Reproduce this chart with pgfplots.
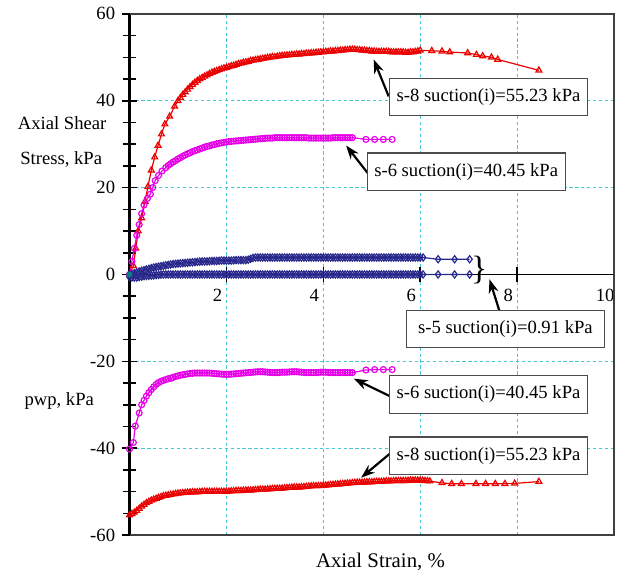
\documentclass[border=0pt]{standalone}
\usepackage{fontspec}
\setmainfont{Liberation Serif}
\usepackage{pgfplots}
\pgfplotsset{compat=1.18}
\usetikzlibrary{arrows.meta}

\definecolor{gridc}{RGB}{70,200,210}
\definecolor{sred}{RGB}{235,0,0}
\definecolor{smag}{RGB}{230,0,230}
\definecolor{snavy}{RGB}{40,40,140}

\begin{document}
\begin{tikzpicture}
\begin{axis}[
  scale only axis,
  width=244.5pt, height=263pt,
  xmin=0, xmax=10, ymin=-60, ymax=60,
  axis x line*=middle, axis y line*=left,
  xtick={2,4,6,8,10}, xticklabels={2,4,6,8,10},
  ytick={-60,-40,-20,0,20,40,60},
  yticklabels={-60,-40,-20,0,20,40,60},
  minor y tick num=3,
  tick align=center,
  major tick length=7.5pt, minor tick length=6.5pt,
  every tick/.style={black, line width=0.8pt},
  x axis line style={black, line width=0.8pt},
  y axis line style={black, line width=1.1pt},
  font=\fontsize{9.4}{11}\selectfont,
  xticklabel style={xshift=-4.5pt},
  grid=major,
  grid style={gridc, line width=0.5pt, dash pattern=on 1.6pt off 1.4pt},
  clip=false,
  every axis plot/.append style={line width=0.6pt},
]
% frame
\draw[black!75, line width=0.8pt] (rel axis cs:0,0) -- (rel axis cs:1,0) -- (rel axis cs:1,1) -- (rel axis cs:0,1);
\path (axis cs:-2.673,63.2) rectangle (axis cs:10.02,-68.2);

% s-8 stress
\addplot[sred, mark=triangle, mark size=1.7pt] coordinates {
(0,0)(0.08,2)(0.13,6)(0.18,10)(0.25,13)(0.32,16.8)(0.38,20.2)(0.45,24)(0.52,27)(0.59,29.7)
(0.66,32.3)(0.73,34.6)(0.83,36.4)(0.93,38.7)(1.0,40.0)(1.05,40.7)(1.1,41.4)(1.15,42.0)(1.2,42.6)
(1.25,43.2)(1.3,43.7)(1.35,44.2)(1.4,44.6)(1.45,45.0)(1.5,45.3)(1.55,45.6)(1.6,45.9)(1.65,46.2)
(1.7,46.5)(1.75,46.7)(1.8,46.9)(1.85,47.1)(1.9,47.3)(1.95,47.5)(2.0,47.6)(2.05,47.8)(2.1,48.0)
(2.15,48.1)(2.2,48.3)(2.25,48.5)(2.3,48.6)(2.35,48.8)(2.4,48.9)(2.45,49.0)(2.5,49.2)(2.55,49.3)
(2.6,49.4)(2.65,49.5)(2.7,49.6)(2.75,49.7)(2.8,49.8)(2.85,49.9)(2.9,50.0)(2.95,50.1)(3.0,50.1)
(3.05,50.2)(3.1,50.3)(3.15,50.4)(3.2,50.4)(3.25,50.5)(3.3,50.5)(3.35,50.6)(3.4,50.6)(3.45,50.7)
(3.5,50.7)(3.55,50.8)(3.6,50.8)(3.65,50.9)(3.7,50.9)(3.75,51.0)(3.8,51.0)(3.85,51.1)(3.9,51.1)
(3.95,51.2)(4.0,51.2)(4.05,51.3)(4.1,51.3)(4.15,51.4)(4.2,51.4)(4.25,51.5)(4.3,51.5)(4.35,51.6)
(4.4,51.6)(4.45,51.7)(4.5,51.7)(4.55,51.8)(4.6,51.8)(4.65,51.8)(4.7,51.7)(4.75,51.7)(4.8,51.6)
(4.85,51.6)(4.9,51.5)(4.95,51.5)(5.0,51.4)(5.05,51.4)(5.1,51.3)(5.15,51.3)(5.2,51.3)(5.25,51.3)
(5.3,51.3)(5.35,51.3)(5.4,51.2)(5.45,51.2)(5.5,51.2)(5.55,51.2)(5.6,51.2)(5.65,51.2)(5.7,51.1)
(5.75,51.1)(5.8,51.2)(5.85,51.2)(5.9,51.3)(5.95,51.4)(6.0,51.6)
(6.24,51.5)(6.45,51.4)(6.61,51.2)(6.98,51.0)(7.16,50.6)(7.29,50.3)(7.47,50.0)(7.6,49.5)(8.45,47.0)
};
% s-6 stress
\addplot[smag, mark=o, mark size=1.5pt] coordinates {
(0,0)(0.05,3)(0.1,6)(0.15,9)(0.2,11.5)(0.25,14)(0.3,16)(0.37,17.5)(0.43,18.5)(0.48,20)(0.53,21.6)
(0.6,22.8)(0.67,23.8)(0.75,24.6)(0.8,25.1)(0.85,25.5)(0.9,25.9)(0.95,26.2)(1.0,26.6)(1.05,26.9)
(1.1,27.2)(1.15,27.5)(1.2,27.8)(1.25,28.0)(1.3,28.3)(1.35,28.5)(1.4,28.7)(1.45,28.9)(1.5,29.1)
(1.55,29.3)(1.6,29.5)(1.65,29.6)(1.7,29.8)(1.75,29.9)(1.8,30.1)(1.85,30.2)(1.9,30.3)(1.95,30.4)
(2.0,30.5)(2.05,30.6)(2.1,30.65)(2.15,30.7)(2.2,30.75)(2.25,30.8)(2.3,30.85)(2.35,30.9)(2.4,30.95)
(2.45,31.0)(2.5,31.05)(2.55,31.1)(2.6,31.15)(2.65,31.2)(2.7,31.25)(2.75,31.3)(2.8,31.35)(2.85,31.4)
(2.9,31.4)(2.95,31.4)(3.0,31.5)(3.05,31.5)(3.1,31.5)(3.15,31.5)(3.2,31.5)(3.25,31.5)(3.3,31.5)
(3.35,31.5)(3.4,31.5)(3.45,31.5)(3.5,31.5)(3.55,31.5)(3.6,31.5)(3.65,31.5)(3.7,31.4)(3.75,31.4)
(3.8,31.4)(3.85,31.4)(3.9,31.4)(3.95,31.4)(4.0,31.4)(4.05,31.4)(4.1,31.4)(4.15,31.4)(4.2,31.5)
(4.25,31.5)(4.3,31.5)(4.35,31.5)(4.4,31.5)(4.45,31.5)(4.5,31.5)(4.55,31.5)(4.6,31.5)
(4.88,31.1)(5.06,31.1)(5.24,31.1)(5.42,31.1)
};
% s-5 stress
\addplot[snavy, mark=diamond, mark size=1.8pt] coordinates {
(0,0)(0.05,0.1)(0.1,0.3)(0.15,0.5)(0.2,0.7)(0.25,0.85)(0.3,1.0)(0.35,1.15)(0.4,1.3)(0.45,1.45)
(0.5,1.6)(0.55,1.7)(0.6,1.8)(0.65,1.9)(0.7,2.0)(0.75,2.1)(0.8,2.2)(0.85,2.3)(0.9,2.4)(0.95,2.45)
(1.0,2.5)(1.05,2.55)(1.1,2.6)(1.15,2.65)(1.2,2.7)(1.25,2.75)(1.3,2.8)(1.35,2.85)(1.4,2.9)(1.45,2.95)
(1.5,3.0)(1.55,3.0)(1.6,3.0)(1.65,3.05)(1.7,3.1)(1.75,3.1)(1.8,3.1)(1.85,3.15)(1.9,3.2)(1.95,3.2)
(2.0,3.2)(2.05,3.2)(2.1,3.2)(2.15,3.25)(2.2,3.3)(2.25,3.3)(2.3,3.3)(2.35,3.3)(2.4,3.3)(2.45,3.4)
(2.5,3.6)(2.55,3.8)(2.6,3.9)(2.65,3.9)(2.7,3.9)(2.75,3.9)(2.8,3.9)(2.85,3.9)(2.9,3.9)(2.95,3.9)
(3.0,3.9)(3.05,3.9)(3.1,3.9)(3.15,3.9)(3.2,3.9)(3.25,3.9)(3.3,3.9)(3.35,3.9)(3.4,3.9)(3.45,3.9)
(3.5,3.9)(3.55,3.9)(3.6,3.9)(3.65,3.9)(3.7,3.9)(3.75,3.9)(3.8,3.9)(3.85,3.9)(3.9,3.9)(3.95,3.9)
(4.0,3.9)(4.05,3.9)(4.1,3.9)(4.15,3.9)(4.2,3.9)(4.25,3.9)(4.3,3.9)(4.35,3.9)(4.4,3.9)(4.45,3.9)
(4.5,3.9)(4.55,3.9)(4.6,3.9)(4.65,3.9)(4.7,3.9)(4.75,3.9)(4.8,3.9)(4.85,3.9)(4.9,3.9)(4.95,3.9)
(5.0,3.9)(5.05,3.9)(5.1,3.9)(5.15,3.9)(5.2,3.9)(5.25,3.9)(5.3,3.9)(5.35,3.9)(5.4,3.9)(5.45,3.9)
(5.5,3.9)(5.55,3.9)(5.6,3.9)(5.65,3.9)(5.7,3.9)(5.75,3.9)(5.8,3.9)(5.85,3.9)(5.9,3.9)(5.95,3.9)
(6.0,3.9)(6.06,3.9)(6.37,3.5)(6.71,3.5)(7.02,3.5)
};
% s-5 pwp
\addplot[snavy, mark=diamond, mark size=1.8pt] coordinates {
(0,-0.6)(0.05,-0.7)(0.1,-0.7)(0.15,-0.7)(0.2,-0.6)(0.25,-0.5)(0.3,-0.4)(0.35,-0.35)(0.4,-0.3)
(0.45,-0.25)(0.5,-0.2)(0.55,-0.15)(0.6,-0.1)(0.65,-0.05)(0.7,0)(0.75,0)(0.8,0)(0.85,0)(0.9,0)(0.95,0)
(1.0,0)(1.05,0)(1.1,0)(1.15,0)(1.2,0)(1.25,0)(1.3,0)(1.35,0)(1.4,0)(1.45,0)
(1.5,0)(1.55,0)(1.6,0)(1.65,0)(1.7,0)(1.75,0)(1.8,0)(1.85,0)(1.9,0)(1.95,0)
(2.0,0)(2.05,0)(2.1,0)(2.15,0)(2.2,0)(2.25,0)(2.3,0)(2.35,0)(2.4,0)(2.45,0)
(2.5,0)(2.55,0)(2.6,0)(2.65,0)(2.7,0)(2.75,0)(2.8,0)(2.85,0)(2.9,0)(2.95,0)
(3.0,0)(3.05,0)(3.1,0)(3.15,0)(3.2,0)(3.25,0)(3.3,0)(3.35,0)(3.4,0)(3.45,0)
(3.5,0)(3.55,0)(3.6,0)(3.65,0)(3.7,0)(3.75,0)(3.8,0)(3.85,0)(3.9,0)(3.95,0)
(4.0,0)(4.05,0)(4.1,0)(4.15,0)(4.2,0)(4.25,0)(4.3,0)(4.35,0)(4.4,0)(4.45,0)
(4.5,0)(4.55,0)(4.6,0)(4.65,0)(4.7,0)(4.75,0)(4.8,0)(4.85,0)(4.9,0)(4.95,0)
(5.0,0)(5.05,0)(5.1,0)(5.15,0)(5.2,0)(5.25,0)(5.3,0)(5.35,0)(5.4,0)(5.45,0)
(5.5,0)(5.55,0)(5.6,0)(5.65,0)(5.7,0)(5.75,0)(5.8,0)(5.85,0)(5.9,0)(5.95,0)
(6.0,0)(6.06,0)(6.37,0)(6.71,0)(7.02,0)
};
% origin marker
\addplot[only marks, mark=*, mark size=1.2pt, color=teal] coordinates {(0,0)};
% s-6 pwp
\addplot[smag, mark=o, mark size=1.5pt] coordinates {
(0,-40.2)(0.08,-38.7)(0.12,-34.9)(0.2,-31.9)(0.25,-30)(0.3,-29)(0.35,-28)(0.4,-27.2)(0.45,-26.5)
(0.5,-25.9)(0.55,-25.3)(0.6,-24.9)(0.65,-24.6)(0.7,-24.4)(0.75,-24.2)(0.8,-24.0)(0.86,-23.9)
(0.9,-23.7)(0.95,-23.5)(1.0,-23.35)(1.05,-23.2)(1.1,-23.1)(1.15,-23.0)(1.2,-22.9)(1.25,-22.8)
(1.3,-22.75)(1.35,-22.7)(1.4,-22.7)(1.45,-22.7)(1.5,-22.7)(1.55,-22.7)(1.6,-22.7)(1.65,-22.7)
(1.7,-22.75)(1.75,-22.8)(1.8,-22.85)(1.85,-22.9)(1.9,-22.95)(1.95,-23.0)(2.0,-23.0)(2.05,-23.0)
(2.1,-22.95)(2.15,-22.9)(2.2,-22.85)(2.25,-22.8)(2.3,-22.75)(2.35,-22.7)(2.4,-22.65)(2.45,-22.6)
(2.5,-22.55)(2.55,-22.5)(2.6,-22.45)(2.65,-22.4)(2.7,-22.4)(2.75,-22.4)(2.8,-22.45)(2.85,-22.5)
(2.9,-22.55)(2.95,-22.6)(3.0,-22.6)(3.05,-22.6)(3.1,-22.55)(3.15,-22.5)(3.2,-22.5)(3.25,-22.5)
(3.3,-22.45)(3.35,-22.4)(3.4,-22.4)(3.45,-22.4)(3.5,-22.45)(3.55,-22.5)(3.6,-22.55)(3.65,-22.6)
(3.7,-22.6)(3.75,-22.6)(3.8,-22.6)(3.85,-22.6)(3.9,-22.55)(3.95,-22.5)(4.0,-22.5)(4.05,-22.5)
(4.1,-22.55)(4.15,-22.6)(4.2,-22.6)(4.25,-22.6)(4.3,-22.6)(4.35,-22.6)(4.4,-22.6)(4.45,-22.6)
(4.5,-22.6)(4.55,-22.6)(4.6,-22.6)(4.88,-22.0)(5.06,-21.9)(5.24,-21.9)(5.42,-21.9)
};
% s-8 pwp
\addplot[sred, mark=triangle, mark size=1.7pt] coordinates {
(0,-55.4)(0.05,-55.1)(0.1,-54.8)(0.15,-54.4)(0.2,-53.9)(0.25,-53.4)(0.3,-53.0)(0.35,-52.6)(0.4,-52.3)
(0.45,-52.0)(0.5,-51.8)(0.55,-51.6)(0.6,-51.4)(0.65,-51.2)(0.7,-51.0)(0.75,-50.9)(0.8,-50.8)
(0.85,-50.7)(0.9,-50.6)(0.95,-50.5)(1.0,-50.4)(1.05,-50.35)(1.1,-50.3)(1.15,-50.25)(1.2,-50.2)
(1.25,-50.15)(1.3,-50.1)(1.35,-50.1)(1.4,-50.1)(1.45,-50.05)(1.5,-50.0)(1.55,-50.0)(1.6,-50.0)
(1.65,-50.0)(1.7,-50.0)(1.75,-50.0)(1.8,-50.0)(1.85,-50.0)(1.9,-50.0)(1.95,-50.0)(2.0,-50.0)
(2.05,-49.95)(2.1,-49.9)(2.15,-49.85)(2.2,-49.8)(2.25,-49.8)(2.3,-49.8)(2.35,-49.75)(2.4,-49.7)
(2.45,-49.7)(2.5,-49.7)(2.55,-49.65)(2.6,-49.6)(2.65,-49.55)(2.7,-49.5)(2.75,-49.5)(2.8,-49.5)
(2.85,-49.45)(2.9,-49.4)(2.95,-49.35)(3.0,-49.3)(3.05,-49.3)(3.1,-49.3)(3.15,-49.25)(3.2,-49.2)
(3.25,-49.15)(3.3,-49.1)(3.35,-49.05)(3.4,-49.0)(3.45,-49.0)(3.5,-49.0)(3.55,-48.95)(3.6,-48.9)
(3.65,-48.85)(3.7,-48.8)(3.75,-48.75)(3.8,-48.7)(3.85,-48.7)(3.9,-48.7)(3.95,-48.65)(4.0,-48.6)
(4.05,-48.55)(4.1,-48.5)(4.15,-48.45)(4.2,-48.4)(4.25,-48.35)(4.3,-48.3)(4.35,-48.25)(4.4,-48.2)
(4.45,-48.15)(4.5,-48.1)(4.55,-48.05)(4.6,-48.0)(4.65,-47.95)(4.7,-47.9)(4.75,-47.9)(4.8,-47.9)
(4.85,-47.85)(4.9,-47.8)(4.95,-47.8)(5.0,-47.8)(5.05,-47.75)(5.1,-47.7)(5.15,-47.7)(5.2,-47.7)
(5.25,-47.65)(5.3,-47.6)(5.35,-47.6)(5.4,-47.6)(5.45,-47.55)(5.5,-47.5)(5.55,-47.5)(5.6,-47.5)
(5.65,-47.5)(5.7,-47.5)(5.75,-47.45)(5.8,-47.4)(5.85,-47.4)(5.9,-47.4)(5.95,-47.4)(6.0,-47.4)
(6.05,-47.45)(6.1,-47.5)(6.15,-47.55)(6.2,-47.6)
(6.45,-48.0)(6.65,-48.2)(6.85,-48.2)(7.15,-48.2)(7.35,-48.2)(7.55,-48.2)(7.75,-48.2)(7.95,-48.1)(8.45,-47.7)
};

% annotations
\tikzset{lab/.style={draw=black!70, line width=0.6pt, fill=white, minimum width=100pt, minimum height=19pt, inner sep=1pt},
  arr/.style={-{Stealth[length=7pt,width=5pt]}, line width=1.1pt, black}}
\draw[arr] (axis cs:5.35,41) -- (axis cs:5.04,49.5);
\node[lab] at (axis cs:7.41,40.85) {s-8 suction(i)=55.23 kPa};
\draw[arr] (axis cs:4.92,23.3) -- (axis cs:4.47,29.7);
\node[lab] at (axis cs:6.95,23.65) {s-6 suction(i)=40.45 kPa};
\node at (axis cs:7.22,1.0) {\fontsize{17}{17}\selectfont\}};
\draw[arr] (axis cs:7.63,-8.2) -- (axis cs:7.43,-1.1);
\node[lab] at (axis cs:7.76,-12.55) {s-5 suction(i)=0.91 kPa};
\draw[arr] (axis cs:5.37,-28) -- (axis cs:4.63,-24);
\node[lab] at (axis cs:7.41,-27.6) {s-6 suction(i)=40.45 kPa};
\draw[arr] (axis cs:5.37,-41.3) -- (axis cs:4.78,-46.8);
\node[lab] at (axis cs:7.41,-41.75) {s-8 suction(i)=55.23 kPa};

% axis titles
\node at (axis cs:-1.39,34.9) {Axial Shear};
\node at (axis cs:-1.41,26.5) {Stress, kPa};
\node at (axis cs:-1.45,-29.2) {pwp, kPa};
\node[font=\fontsize{10.5}{12}\selectfont] at (axis cs:5.18,-66.2) {Axial Strain, \%};
\end{axis}
\end{tikzpicture}
\end{document}
